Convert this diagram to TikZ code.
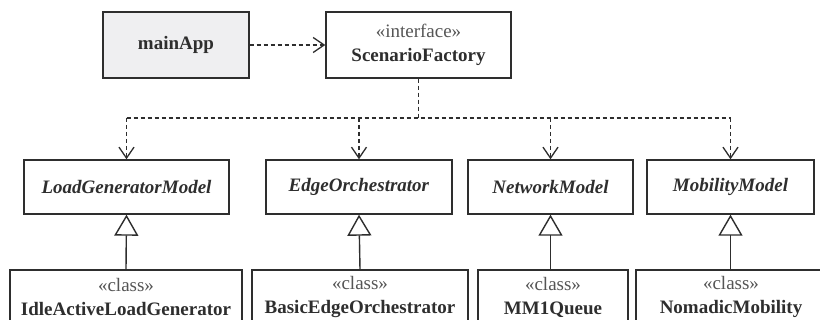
\documentclass[tikz,border=0pt]{standalone}
\usepackage{fontspec}
\setmainfont{Liberation Serif}
\usetikzlibrary{arrows.meta}
\definecolor{ink}{HTML}{2E2E2E}
\definecolor{soft}{HTML}{555555}
\definecolor{shade}{HTML}{EFEFF1}
\begin{document}
\begin{tikzpicture}[x=1pt,y=-1pt,
  box/.style={draw=ink, line width=1.4pt, fill=white, align=center, inner sep=0pt, text=ink,
    font=\fontsize{19}{24}\selectfont},
  dep/.style={draw=ink, line width=1.3pt, dash pattern=on 4pt off 3pt},
  deparrow/.style={dep, -{Straight Barb[length=11pt,width=15pt,line width=1.3pt]}},
  gen/.style={draw=ink, line width=1.4pt, -{Triangle[open,length=21pt,width=24pt,fill=white,line width=1.4pt]}},
  st/.style={text=soft}]
\useasboundingbox (0,0) rectangle (820,320);
\clip (0,0) rectangle (820,320);
\fill[white] (0,0) rectangle (820,320);
% top row
\node[box, fill=shade, minimum width=146pt, minimum height=66pt] (main) at (176,45) {\textbf{mainApp}};
\node[box, minimum width=185pt, minimum height=66pt] (sf) at (418.5,45) {{\color{soft}«interface»}\\ \textbf{ScenarioFactory}};
% middle row
\node[box, minimum width=205pt, minimum height=54pt] (lgm) at (126.5,187) {\textbf{\textit{LoadGeneratorModel}}};
\node[box, minimum width=186pt, minimum height=54pt] (eo) at (359,187) {\textbf{\textit{EdgeOrchestrator}}};
\node[box, minimum width=165pt, minimum height=54pt] (nm) at (550.5,187) {\textbf{\textit{NetworkModel}}};
\node[box, minimum width=167pt, minimum height=54pt] (mm) at (730.5,187) {\textbf{\textit{MobilityModel}}};
% bottom row
\node[box, minimum width=232pt, minimum height=54pt] (ia) at (126,297) {{\color{soft}«class»}\\ \textbf{IdleActiveLoadGenerator}};
\node[box, minimum width=216pt, minimum height=54pt] (be) at (360,297) {{\color{soft}«class»}\\ \textbf{BasicEdgeOrchestrator}};
\node[box, minimum width=150pt, minimum height=54pt] (mq) at (553,297) {{\color{soft}«class»}\\ \textbf{MM1Queue}};
\node[box, minimum width=190pt, minimum height=54pt] (nom) at (731,297) {{\color{soft}«class»}\\ \textbf{NomadicMobility}};
% dependencies
\draw[deparrow] (main.east) -- (sf.west);
\coordinate (bus) at (sf.south |- 0,118);
\draw[dep] (sf.south) -- (bus);
\draw[dep] (lgm.north |- bus) -- (mm.north |- bus);
\draw[deparrow] (lgm.north |- bus) -- (lgm.north);
\draw[deparrow] (eo.north |- bus) -- (eo.north);
\draw[deparrow] (nm.north |- bus) -- (nm.north);
\draw[deparrow] (mm.north |- bus) -- (mm.north);
% generalizations
\draw[gen] (ia.north) -- (lgm.south);
\draw[gen] (be.north) -- (eo.south);
\draw[gen] (mq.north -| nm.south) -- (nm.south);
\draw[gen] (nom.north -| mm.south) -- (mm.south);
\end{tikzpicture}
\end{document}
